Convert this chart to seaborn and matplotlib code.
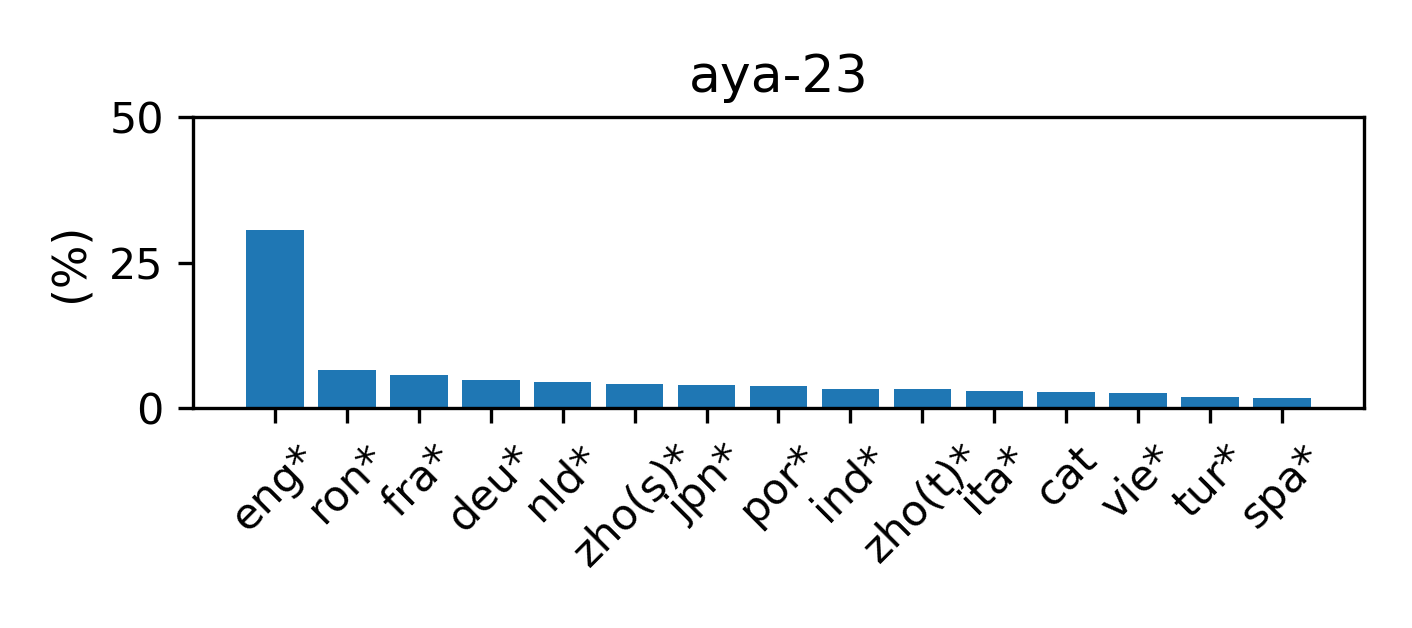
import matplotlib
matplotlib.use("Agg")
import matplotlib.pyplot as plt
import pandas as pd
import seaborn as sns

langs = ["eng*", "ron*", "fra*", "deu*", "nld*", "zho(s)*", "jpn*", "por*",
         "ind*", "zho(t)*", "ita*", "cat", "vie*", "tur*", "spa*"]
share = [30.5, 6.5, 5.75, 4.8, 4.4, 4.2, 4.0, 3.8,
         3.3, 3.3, 3.0, 2.8, 2.65, 1.95, 1.65]

df = pd.DataFrame({"lang": langs, "pct": share})

fig = plt.figure(figsize=(1412 / 300, 628 / 300), dpi=300)
ax = fig.add_axes([193 / 1412, 1 - 408 / 628, (1364 - 193) / 1412, (408 - 117) / 628])

sns.barplot(x="lang", y="pct", data=df, color="#1f77b4", saturation=1,
            width=0.8, ax=ax)

ax.set_xlim(-1.14, len(langs) - 1 + 1.14)
ax.set_ylim(0, 50)
ax.set_yticks([0, 25, 50])
ax.set_xlabel("")
ax.set_ylabel("(%)", fontsize=11)
ax.set_title("aya-23", fontsize=12.5)
ax.tick_params(axis="both", labelsize=10.3)
plt.setp(ax.get_xticklabels(), rotation=45)

fig.savefig("out.png", dpi=300)
